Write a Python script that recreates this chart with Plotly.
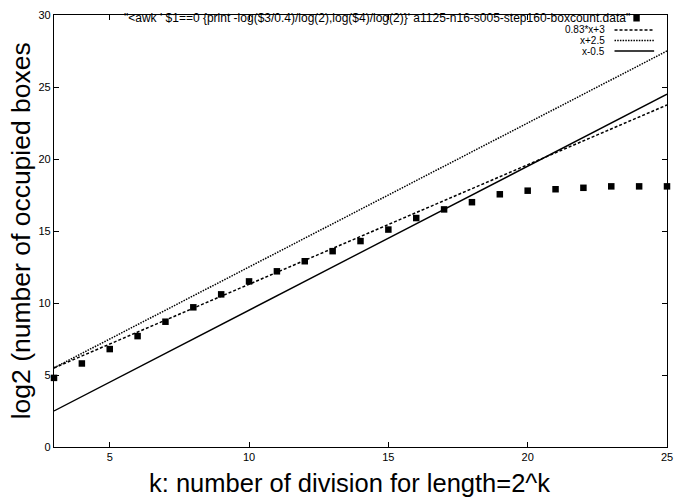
import plotly.graph_objects as go

# ---- data ----
k_values = list(range(3, 26))
log2_boxes = [4.8, 5.8, 6.8, 7.7, 8.7, 9.7, 10.6, 11.5, 12.2, 12.9, 13.6, 14.3,
              15.1, 15.9, 16.5, 17.0, 17.55, 17.8, 17.9, 18.0, 18.1, 18.1, 18.1]

fit_x = [3, 25]
fit_a = [5.49, 23.75]   # 0.83*x+3
fit_b = [5.5, 27.5]     # x+2.5
fit_c = [2.5, 24.5]     # x-0.5

legend_labels = [
    "\"<awk ' $1==0 {print -log($3/0.4)/log(2),log($4)/log(2)}' a1125-n16-s005-step160-boxcount.data\"",
    "0.83*x+3",
    "x+2.5",
    "x-0.5",
]
x_ticks = [5, 10, 15, 20, 25]
y_ticks = [0, 5, 10, 15, 20, 25, 30]

# ---- layout geometry (pixels) ----
W, H = 680, 501
L, R, T, B = 54, 673, 15, 447
PW, PH = R - L, B - T

def px(x):
    return (x - L) / PW

def py(y):
    return (B - y) / PH

FONT = "Liberation Sans, Arial, sans-serif"

fig = go.Figure()
fig.add_trace(go.Scatter(x=k_values, y=log2_boxes, mode="markers",
                         marker=dict(symbol="square", size=6.5, color="black"),
                         showlegend=False, cliponaxis=False))
fig.add_trace(go.Scatter(x=fit_x, y=fit_a, mode="lines",
                         line=dict(color="black", width=1.5, dash="3px,2px"), showlegend=False))
fig.add_trace(go.Scatter(x=fit_x, y=fit_b, mode="lines",
                         line=dict(color="black", width=1.5, dash="1.5px,1.2px"), showlegend=False))
fig.add_trace(go.Scatter(x=fit_x, y=fit_c, mode="lines",
                         line=dict(color="black", width=1.4), showlegend=False))

annotations = []
shapes = []
# legend rows
rows_y = [18, 30, 40.5, 51]
text_right = [638, 612, 612, 612]
text_size = [12, 10, 10, 10]
for lab, yy, xr, fs in zip(legend_labels, rows_y, text_right, text_size):
    annotations.append(dict(x=px(xr), y=py(yy), xref="paper", yref="paper",
                            text=lab, showarrow=False, xanchor="right", yanchor="middle",
                            font=dict(family=FONT, size=fs, color="black")))
# legend samples
shapes.append(dict(type="rect", xref="paper", yref="paper",
                   x0=px(639), x1=px(645.5), y0=py(15), y1=py(21.5),
                   fillcolor="black", line=dict(width=0)))
dashes = ["3px,2px", "1.5px,1.2px", "solid"]
for yy, d in zip(rows_y[1:], dashes):
    shapes.append(dict(type="line", xref="paper", yref="paper",
                       x0=px(620), x1=px(660), y0=py(yy), y1=py(yy),
                       line=dict(color="black", width=1.4, dash=d)))

# axis titles
annotations.append(dict(x=px(21), y=py(231), xref="paper", yref="paper",
                        text="log2 (number of occupied boxes", textangle=-90,
                        showarrow=False, xanchor="center", yanchor="middle",
                        font=dict(family=FONT, size=26.5, color="black")))
annotations.append(dict(x=px(352), y=py(483), xref="paper", yref="paper",
                        text="k: number of division for length=2^k",
                        showarrow=False, xanchor="center", yanchor="middle",
                        font=dict(family=FONT, size=25.5, color="black")))

axis_common = dict(showgrid=False, zeroline=False, showline=True, linecolor="black",
                   linewidth=1.3, mirror="allticks", ticks="inside", ticklen=5,
                   tickcolor="black", tickwidth=1,
                   tickfont=dict(family=FONT, size=11, color="black"))

fig.update_layout(
    width=W, height=H,
    margin=dict(l=L, r=W - R, t=T, b=H - B, pad=0),
    paper_bgcolor="white", plot_bgcolor="white",
    xaxis=dict(range=[3, 25], tickvals=x_ticks, ticktext=[str(v) for v in x_ticks], **axis_common),
    yaxis=dict(range=[0, 30], tickvals=y_ticks, ticktext=[str(v) for v in y_ticks], **axis_common),
    annotations=annotations, shapes=shapes, showlegend=False,
)
fig.write_html("out.html", config={"displayModeBar": False},
               post_script="document.body.style.margin='0px';")
